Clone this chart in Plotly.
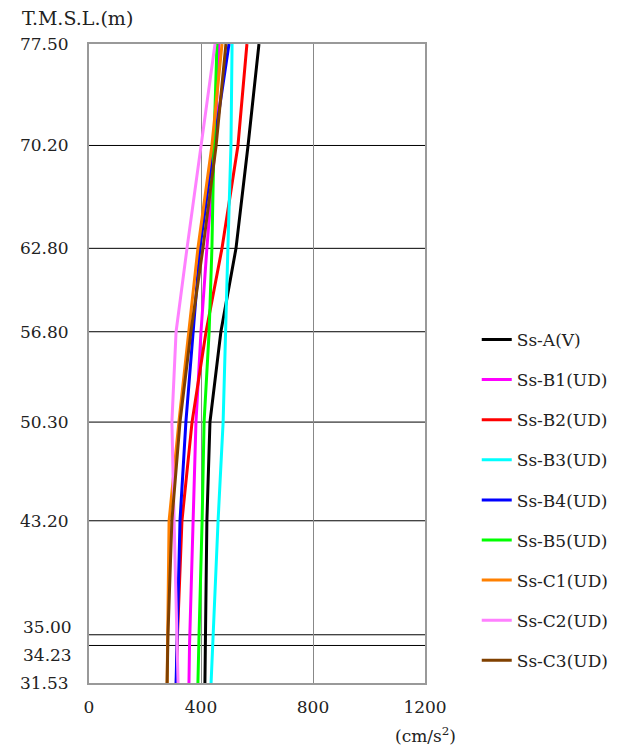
import plotly.graph_objects as go

elev = [77.50, 70.20, 62.80, 56.80, 50.30, 43.20, 35.00, 34.23, 31.53]
elev_labels = ["77.50", "70.20", "62.80", "56.80", "50.30", "43.20", "35.00", "34.23", "31.53"]
# labels nudged off their grid line to avoid overlap (label, pixel shift)
nudged = {"35.00": 8, "34.23": -10}

names = ["Ss-A(V)", "Ss-B1(UD)", "Ss-B2(UD)", "Ss-B3(UD)", "Ss-B4(UD)",
         "Ss-B5(UD)", "Ss-C1(UD)", "Ss-C2(UD)", "Ss-C3(UD)"]
colors = ["#000000", "#ff00ff", "#ff0000", "#00ffff", "#0000ff",
          "#00ff00", "#ff8000", "#ff80ff", "#804000"]

ss_a = [607, 568, 525, 471, 432, 421, 416, 415, 414]
ss_b1 = [464, 450, 421, 400, 382, 371, 360, 359, 357]
ss_b2 = [564, 532, 475, 418, 368, 332, 316, 315, 312]
ss_b3 = [511, 507, 496, 489, 479, 461, 443, 441, 436]
ss_b4 = [500, 446, 396, 371, 346, 325, 314, 313, 311]
ss_b5 = [457, 446, 439, 429, 411, 404, 393, 392, 389]
ss_c1 = [475, 439, 389, 357, 321, 286, 281, 280, 279]
ss_c2 = [450, 400, 350, 311, 296, 304, 315, 316, 318]
ss_c3 = [489, 454, 407, 364, 325, 296, 282, 281, 279]
series = [ss_a, ss_b1, ss_b2, ss_b3, ss_b4, ss_b5, ss_c1, ss_c2, ss_c3]

xticks = [0, 400, 800, 1200]

FONT = "DejaVu Serif"
TXT = "#222222"
FS = 17

fig = go.Figure()
for i, (n, c, v) in enumerate(zip(names, colors, series)):
    fig.add_trace(go.Scatter(x=v, y=elev, mode="lines", name=n,
                             line=dict(color=c, width=3),
                             legendgroup=f"g{i}"))

# horizontal elevation grid lines
for e in elev[1:-1]:
    fig.add_shape(type="line", xref="paper", x0=0, x1=1, yref="y", y0=e, y1=e,
                  line=dict(color="#000000", width=1), layer="below")

annotations = [
    dict(text="T.M.S.L.(m)", xref="paper", yref="paper", x=-0.205, y=1.041,
         xanchor="left", yanchor="middle", showarrow=False,
         font=dict(family=FONT, size=19, color=TXT)),
    dict(text="(cm/s<sup>2</sup>)", xref="paper", yref="paper", x=1.098, y=-0.081,
         xanchor="right", yanchor="middle", showarrow=False,
         font=dict(family=FONT, size=FS, color=TXT)),
]
for e, lab in zip(elev, elev_labels):
    if lab in nudged:
        annotations.append(dict(text=lab, xref="paper", yref="y", x=0, y=e,
                                xanchor="right", yanchor="middle", xshift=-15,
                                yshift=nudged[lab], showarrow=False,
                                font=dict(family=FONT, size=FS, color=TXT)))

fig.update_layout(
    width=635, height=738,
    margin=dict(l=81, r=218, t=36, b=63),
    plot_bgcolor="white", paper_bgcolor="white",
    font=dict(family=FONT, size=FS, color=TXT),
    showlegend=True,
    legend=dict(x=1.154, y=0.565, xanchor="left", yanchor="top",
                font=dict(family=FONT, size=FS, color=TXT),
                tracegroupgap=15, bgcolor="rgba(0,0,0,0)"),
    xaxis=dict(range=[0, 1200], tickvals=xticks, ticktext=[str(t) for t in xticks],
               showgrid=True, gridcolor="#888888", gridwidth=1,
               showline=True, linecolor="#999999", linewidth=2, mirror=True,
               zeroline=False, ticks="", tickfont=dict(size=FS), ticklabelstandoff=8),
    yaxis=dict(range=[31.53, 77.50], tickvals=elev,
               ticktext=["" if l in nudged else l for l in elev_labels],
               showgrid=False,
               showline=True, linecolor="#999999", linewidth=2, mirror=True,
               zeroline=False, ticks="", tickfont=dict(size=FS), ticklabelstandoff=15),
    annotations=annotations,
)

fig.write_html("out.html")
